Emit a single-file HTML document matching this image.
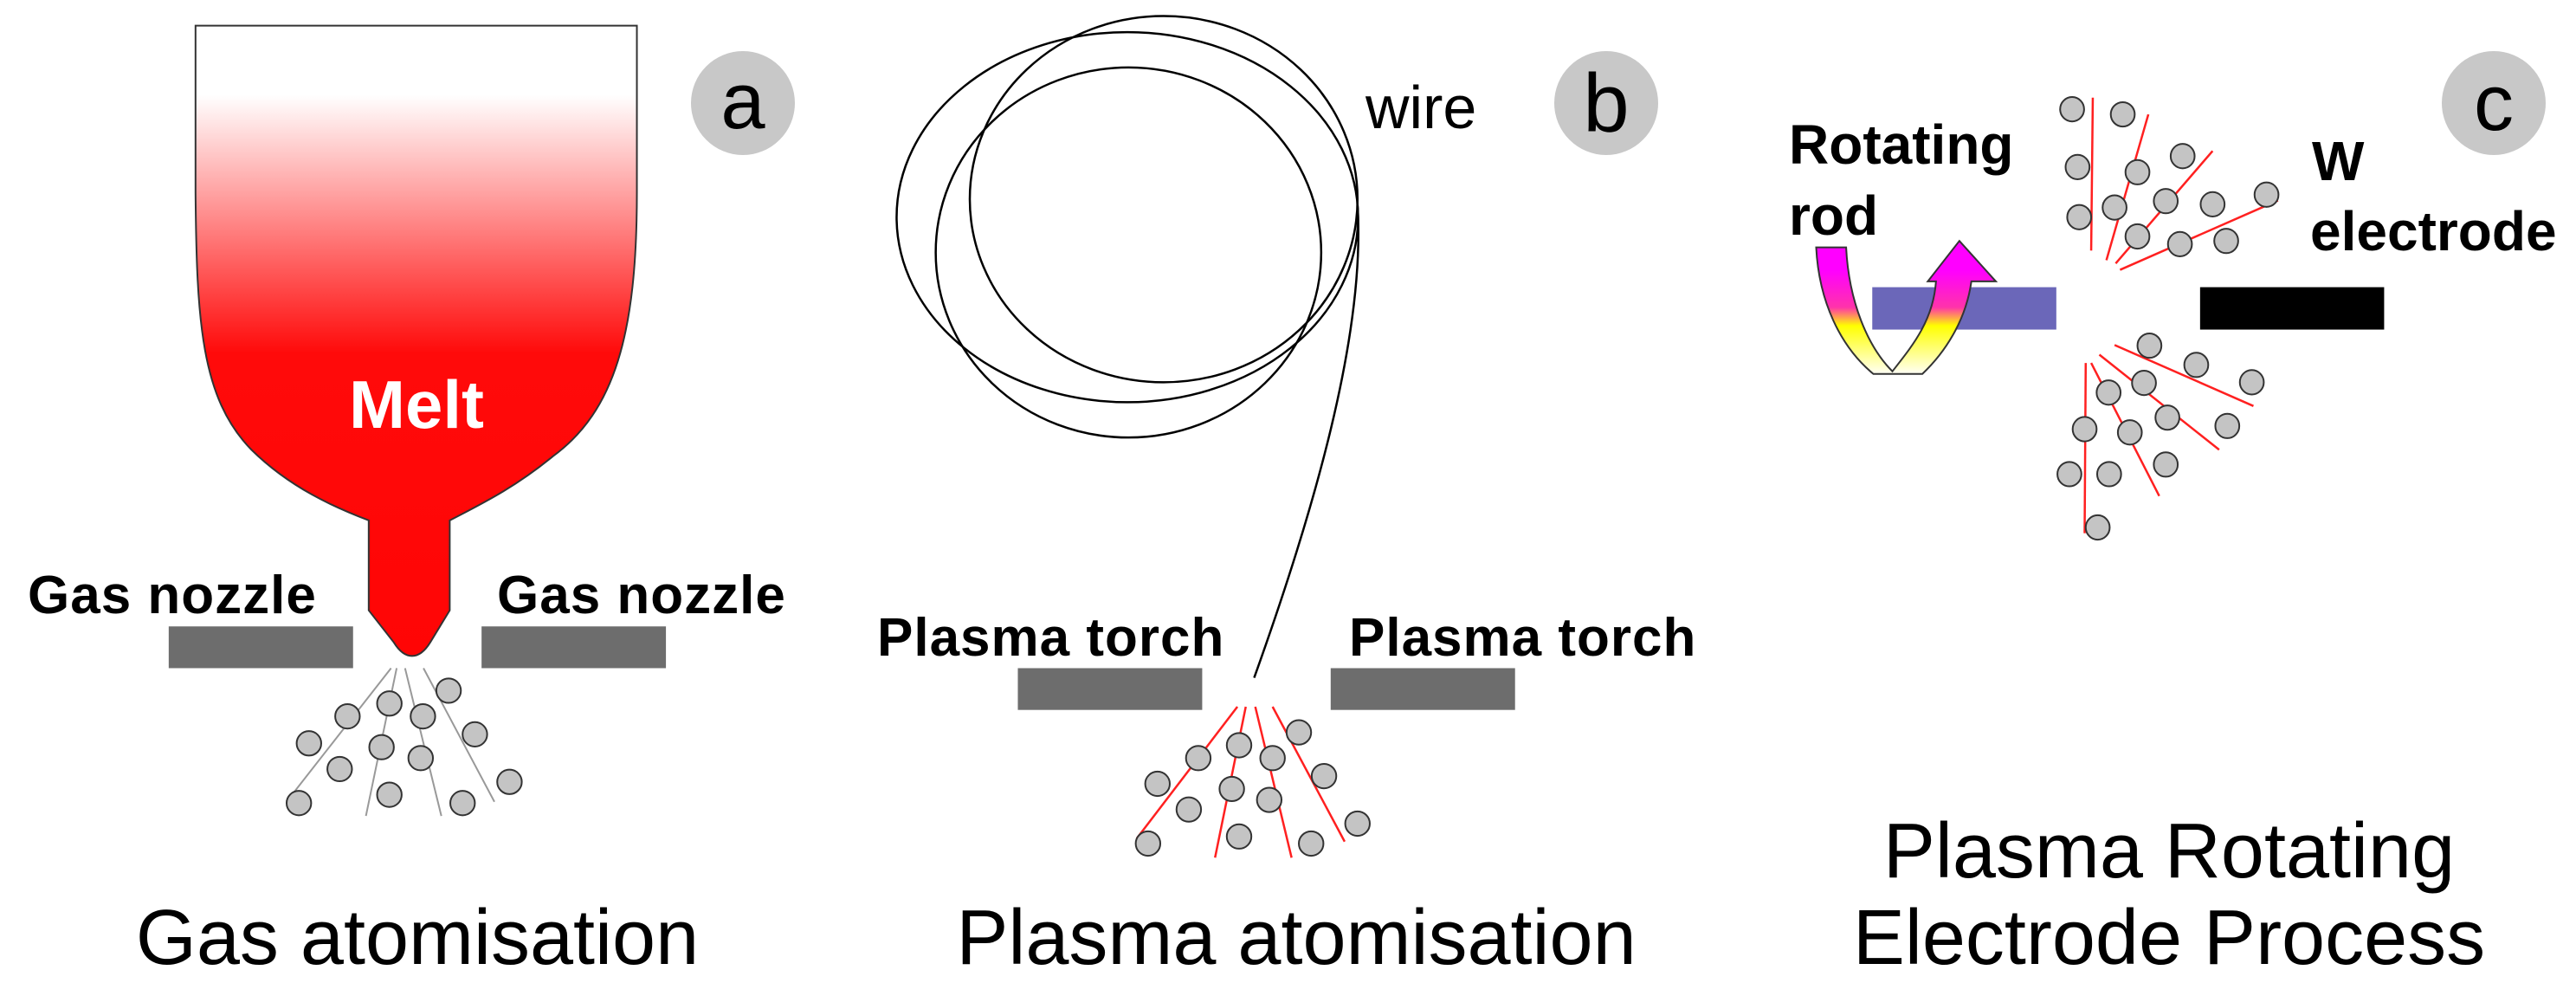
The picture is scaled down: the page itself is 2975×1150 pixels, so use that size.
<!DOCTYPE html>
<html><head><meta charset="utf-8"><style>
html,body{margin:0;padding:0;background:#fff;}
svg{display:block;}
text{font-family:"Liberation Sans",Arial,sans-serif;}
</style></head><body>
<svg width="2975" height="1150" viewBox="0 0 2975 1150" xmlns="http://www.w3.org/2000/svg">
<defs>
<linearGradient id="melt" x1="0" y1="0" x2="0" y2="1">
<stop offset="0.11" stop-color="#ffffff"/>
<stop offset="0.52" stop-color="#ff0a0a"/>
<stop offset="1" stop-color="#ff0505"/>
</linearGradient>
<linearGradient id="arr" gradientUnits="userSpaceOnUse" x1="0" y1="380" x2="0" y2="585">
<stop offset="0.2" stop-color="#ff00ff"/>
<stop offset="0.48" stop-color="#ff33aa"/>
<stop offset="0.62" stop-color="#ffff00"/>
<stop offset="1" stop-color="#ffffff"/>
</linearGradient>
</defs>

<!-- Panel a -->
<g transform="scale(0.6452,0.7418)">
<path d="M350,40 L1140,40 L1140,300 C1140,520 1100,640 990,710 C920,760 860,785 805,810 L805,950 L770,1000 C750,1028 725,1028 705,1000 L660,950 L660,810 C600,790 520,760 450,700 C360,620 352,500 350,300 Z" fill="url(#melt)" stroke="#333" stroke-width="2" vector-effect="non-scaling-stroke"/>
<rect x="302" y="975" width="330" height="65" fill="#6d6d6d"/>
<rect x="862" y="975" width="330" height="65" fill="#6d6d6d"/>
<g stroke="#999" stroke-width="2" fill="none">
<line x1="700" y1="1040" x2="520" y2="1240" vector-effect="non-scaling-stroke"/>
<line x1="710" y1="1040" x2="655" y2="1270" vector-effect="non-scaling-stroke"/>
<line x1="725" y1="1040" x2="790" y2="1270" vector-effect="non-scaling-stroke"/>
<line x1="758" y1="1040" x2="885" y2="1248" vector-effect="non-scaling-stroke"/>
</g>
<g fill="#c4c4c4" stroke="#333" stroke-width="2">
<ellipse cx="803" cy="1075" rx="22" ry="19" vector-effect="non-scaling-stroke"/>
<ellipse cx="622" cy="1115" rx="22" ry="19" vector-effect="non-scaling-stroke"/>
<ellipse cx="697" cy="1095" rx="22" ry="19" vector-effect="non-scaling-stroke"/>
<ellipse cx="757" cy="1115" rx="22" ry="19" vector-effect="non-scaling-stroke"/>
<ellipse cx="553" cy="1157" rx="22" ry="19" vector-effect="non-scaling-stroke"/>
<ellipse cx="850" cy="1143" rx="22" ry="19" vector-effect="non-scaling-stroke"/>
<ellipse cx="683" cy="1163" rx="22" ry="19" vector-effect="non-scaling-stroke"/>
<ellipse cx="753" cy="1180" rx="22" ry="19" vector-effect="non-scaling-stroke"/>
<ellipse cx="608" cy="1197" rx="22" ry="19" vector-effect="non-scaling-stroke"/>
<ellipse cx="912" cy="1217" rx="22" ry="19" vector-effect="non-scaling-stroke"/>
<ellipse cx="535" cy="1250" rx="22" ry="19" vector-effect="non-scaling-stroke"/>
<ellipse cx="697" cy="1237" rx="22" ry="19" vector-effect="non-scaling-stroke"/>
<ellipse cx="828" cy="1250" rx="22" ry="19" vector-effect="non-scaling-stroke"/>
</g>
</g>
<circle cx="858" cy="119" r="60" fill="#c8c8c8"/>
<text x="858" y="148" font-size="92" text-anchor="middle" fill="#000">a</text>
<text x="481" y="494" font-size="78" font-weight="bold" text-anchor="middle" fill="#fff">Melt</text>
<text x="32" y="708" font-size="62" font-weight="bold" letter-spacing="1">Gas nozzle</text>
<text x="574" y="708" font-size="62" font-weight="bold" letter-spacing="1">Gas nozzle</text>
<text x="482" y="1113" font-size="90" text-anchor="middle">Gas atomisation</text>

<!-- Panel b -->
<g transform="translate(1000,0) scale(0.6452,0.7418)">
<g fill="none" stroke="#000" stroke-width="2.5">
<ellipse cx="468" cy="338" rx="413" ry="288" vector-effect="non-scaling-stroke"/>
<ellipse cx="470" cy="393" rx="345" ry="288" vector-effect="non-scaling-stroke"/>
<ellipse cx="533" cy="310" rx="347" ry="285" vector-effect="non-scaling-stroke"/>
<path d="M880,320 C895,520 800,800 695,1055" vector-effect="non-scaling-stroke"/>
</g>
<rect x="272" y="1040" width="330" height="65" fill="#6d6d6d"/>
<rect x="832" y="1040" width="330" height="65" fill="#6d6d6d"/>
<g stroke="#ff2020" stroke-width="2.5">
<line x1="665" y1="1100" x2="485" y2="1305" vector-effect="non-scaling-stroke"/>
<line x1="680" y1="1100" x2="625" y2="1335" vector-effect="non-scaling-stroke"/>
<line x1="697" y1="1100" x2="762" y2="1335" vector-effect="non-scaling-stroke"/>
<line x1="728" y1="1100" x2="857" y2="1310" vector-effect="non-scaling-stroke"/>
</g>
<g fill="#c4c4c4" stroke="#333" stroke-width="2">
<ellipse cx="775" cy="1140" rx="22" ry="19" vector-effect="non-scaling-stroke"/>
<ellipse cx="595" cy="1180" rx="22" ry="19" vector-effect="non-scaling-stroke"/>
<ellipse cx="668" cy="1160" rx="22" ry="19" vector-effect="non-scaling-stroke"/>
<ellipse cx="728" cy="1180" rx="22" ry="19" vector-effect="non-scaling-stroke"/>
<ellipse cx="522" cy="1220" rx="22" ry="19" vector-effect="non-scaling-stroke"/>
<ellipse cx="820" cy="1208" rx="22" ry="19" vector-effect="non-scaling-stroke"/>
<ellipse cx="655" cy="1228" rx="22" ry="19" vector-effect="non-scaling-stroke"/>
<ellipse cx="722" cy="1245" rx="22" ry="19" vector-effect="non-scaling-stroke"/>
<ellipse cx="578" cy="1260" rx="22" ry="19" vector-effect="non-scaling-stroke"/>
<ellipse cx="880" cy="1282" rx="22" ry="19" vector-effect="non-scaling-stroke"/>
<ellipse cx="505" cy="1313" rx="22" ry="19" vector-effect="non-scaling-stroke"/>
<ellipse cx="668" cy="1302" rx="22" ry="19" vector-effect="non-scaling-stroke"/>
<ellipse cx="797" cy="1313" rx="22" ry="19" vector-effect="non-scaling-stroke"/>
</g>
</g>
<text x="1577" y="148" font-size="70">wire</text>
<circle cx="1855" cy="119" r="60" fill="#c8c8c8"/>
<text x="1855" y="152" font-size="96" text-anchor="middle">b</text>
<text x="1013" y="757" font-size="62" font-weight="bold" letter-spacing="1">Plasma torch</text>
<text x="1558" y="757" font-size="62" font-weight="bold" letter-spacing="1">Plasma torch</text>
<text x="1497" y="1113" font-size="90" text-anchor="middle">Plasma atomisation</text>

<!-- Panel c -->
<g transform="translate(2000,0) scale(0.6289,0.7418)">
<rect x="258" y="447" width="338" height="66" fill="#6b67b9"/>
<rect x="860" y="447" width="338" height="66" fill="#000"/>
<path d="M155,385 L210,385 C215,470 250,540 295,578 C330,540 370,500 375,438 L360,438 L418,375 L485,438 L440,438 C430,500 390,550 350,582 L260,582 C200,540 160,470 155,385 Z" fill="url(#arr)" stroke="#333" stroke-width="2" vector-effect="non-scaling-stroke"/>
<g stroke="#ff2020" stroke-width="2.5">
<line x1="663" y1="152" x2="660" y2="390" vector-effect="non-scaling-stroke"/>
<line x1="765" y1="178" x2="688" y2="405" vector-effect="non-scaling-stroke"/>
<line x1="883" y1="235" x2="705" y2="410" vector-effect="non-scaling-stroke"/>
<line x1="1003" y1="312" x2="713" y2="420" vector-effect="non-scaling-stroke"/>
<line x1="650" y1="565" x2="648" y2="830" vector-effect="non-scaling-stroke"/>
<line x1="660" y1="565" x2="785" y2="772" vector-effect="non-scaling-stroke"/>
<line x1="675" y1="552" x2="895" y2="700" vector-effect="non-scaling-stroke"/>
<line x1="703" y1="537" x2="958" y2="632" vector-effect="non-scaling-stroke"/>
</g>
<g fill="#c4c4c4" stroke="#333" stroke-width="2">
<ellipse cx="625" cy="170" rx="22" ry="19" vector-effect="non-scaling-stroke"/>
<ellipse cx="718" cy="178" rx="22" ry="19" vector-effect="non-scaling-stroke"/>
<ellipse cx="635" cy="260" rx="22" ry="19" vector-effect="non-scaling-stroke"/>
<ellipse cx="745" cy="268" rx="22" ry="19" vector-effect="non-scaling-stroke"/>
<ellipse cx="828" cy="243" rx="22" ry="19" vector-effect="non-scaling-stroke"/>
<ellipse cx="638" cy="338" rx="22" ry="19" vector-effect="non-scaling-stroke"/>
<ellipse cx="703" cy="323" rx="22" ry="19" vector-effect="non-scaling-stroke"/>
<ellipse cx="797" cy="313" rx="22" ry="19" vector-effect="non-scaling-stroke"/>
<ellipse cx="883" cy="318" rx="22" ry="19" vector-effect="non-scaling-stroke"/>
<ellipse cx="982" cy="303" rx="22" ry="19" vector-effect="non-scaling-stroke"/>
<ellipse cx="745" cy="368" rx="22" ry="19" vector-effect="non-scaling-stroke"/>
<ellipse cx="823" cy="380" rx="22" ry="19" vector-effect="non-scaling-stroke"/>
<ellipse cx="908" cy="375" rx="22" ry="19" vector-effect="non-scaling-stroke"/>
<ellipse cx="767" cy="538" rx="22" ry="19" vector-effect="non-scaling-stroke"/>
<ellipse cx="853" cy="568" rx="22" ry="19" vector-effect="non-scaling-stroke"/>
<ellipse cx="955" cy="595" rx="22" ry="19" vector-effect="non-scaling-stroke"/>
<ellipse cx="757" cy="596" rx="22" ry="19" vector-effect="non-scaling-stroke"/>
<ellipse cx="692" cy="611" rx="22" ry="19" vector-effect="non-scaling-stroke"/>
<ellipse cx="800" cy="650" rx="22" ry="19" vector-effect="non-scaling-stroke"/>
<ellipse cx="910" cy="663" rx="22" ry="19" vector-effect="non-scaling-stroke"/>
<ellipse cx="648" cy="668" rx="22" ry="19" vector-effect="non-scaling-stroke"/>
<ellipse cx="731" cy="673" rx="22" ry="19" vector-effect="non-scaling-stroke"/>
<ellipse cx="797" cy="723" rx="22" ry="19" vector-effect="non-scaling-stroke"/>
<ellipse cx="620" cy="738" rx="22" ry="19" vector-effect="non-scaling-stroke"/>
<ellipse cx="693" cy="738" rx="22" ry="19" vector-effect="non-scaling-stroke"/>
<ellipse cx="672" cy="821" rx="22" ry="19" vector-effect="non-scaling-stroke"/>
</g>
</g>
<circle cx="2880" cy="119" r="60" fill="#c8c8c8"/>
<text x="2880" y="150" font-size="92" text-anchor="middle">c</text>
<text x="2066" y="189" font-size="64" font-weight="bold">Rotating</text>
<text x="2066" y="271" font-size="64" font-weight="bold">rod</text>
<text x="2670" y="208" font-size="64" font-weight="bold">W</text>
<text x="2668" y="289" font-size="64" font-weight="bold">electrode</text>
<text x="2505" y="1013" font-size="90" text-anchor="middle">Plasma Rotating</text>
<text x="2505" y="1113" font-size="90" text-anchor="middle">Electrode Process</text>
</svg>
</body></html>
